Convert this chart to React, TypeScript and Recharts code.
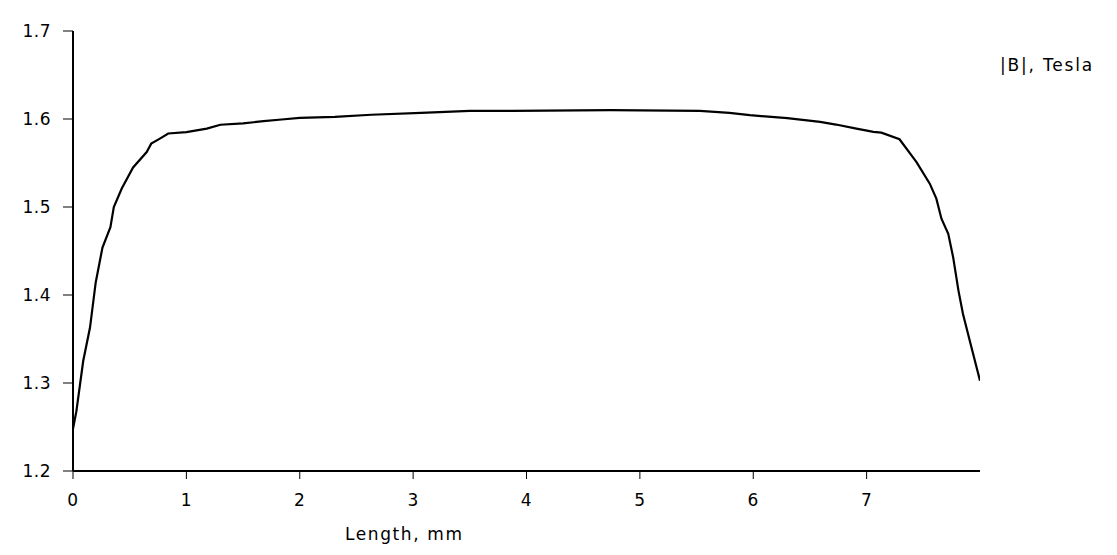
import { LineChart, Line, XAxis, YAxis, Label } from "recharts";

const lengthMm = [
  0, 0.03, 0.09, 0.15, 0.2, 0.26, 0.33, 0.36, 0.43, 0.53, 0.65, 0.69, 0.77,
  0.84, 1.0, 1.18, 1.3, 1.5, 1.68, 1.84, 2.0, 2.31, 2.63, 3.07, 3.5, 3.88,
  4.74, 5.53, 5.79, 5.97, 6.3, 6.59, 6.73, 6.91, 7.06, 7.13, 7.29, 7.44,
  7.557, 7.615, 7.66, 7.72, 7.763, 7.81, 7.85, 7.925, 8.0,
];

const fieldTesla = [
  1.248, 1.268, 1.325, 1.363, 1.414, 1.454, 1.477, 1.5, 1.521, 1.545, 1.5625,
  1.572, 1.578, 1.5835, 1.585, 1.589, 1.5935, 1.595, 1.5975, 1.5994, 1.6013,
  1.6024, 1.6048, 1.6069, 1.6092, 1.6092, 1.61, 1.6092, 1.607, 1.6043, 1.601,
  1.5967, 1.5937, 1.589, 1.5853, 1.5845, 1.577, 1.551, 1.5265, 1.5095, 1.4867,
  1.4696, 1.443, 1.405, 1.3785, 1.3404, 1.3025,
];

const xTicks = [0, 1, 2, 3, 4, 5, 6, 7];
const yTicks = [1.2, 1.3, 1.4, 1.5, 1.6, 1.7];

const data = lengthMm.map((x, i) => ({ x, b: fieldTesla[i] }));

const font = "'DejaVu Sans', Verdana, sans-serif";
const tickStyle = { fontFamily: font, fontSize: 17, fill: "#000", letterSpacing: 0.5 };

export default function App() {
  return (
    <div style={{ position: "absolute", left: 0, top: 0, background: "#fff" }}>
      <LineChart
        width={1117}
        height={555}
        data={data}
        margin={{ top: 31, right: 137, bottom: 54, left: 0 }}
      >
        <XAxis
          dataKey="x"
          type="number"
          domain={[0, 8]}
          ticks={xTicks}
          allowDataOverflow
          height={30}
          stroke="#000"
          strokeWidth={2}
          tickLine={{ stroke: "#000", strokeWidth: 1 }}
          tickSize={8}
          tickMargin={15}
          tick={tickStyle}
        >
          <Label
            content={() => (
              <text
                x={345}
                y={540}
                fontFamily={font}
                fontSize={17}
                letterSpacing={1.6}
                fill="#000"
              >
                Length, mm
              </text>
            )}
          />
        </XAxis>
        <YAxis
          type="number"
          domain={[1.2, 1.7]}
          ticks={yTicks}
          width={73}
          stroke="#000"
          strokeWidth={2}
          tickLine={{ stroke: "#000", strokeWidth: 1 }}
          tickSize={10}
          tickMargin={12}
          tick={tickStyle}
          tickFormatter={(v: number) => v.toFixed(1)}
        >
          <Label
            content={() => (
              <text
                x={1000}
                y={71}
                fontFamily={font}
                fontSize={17}
                letterSpacing={1.8}
                fill="#000"
              >
                |B|, Tesla
              </text>
            )}
          />
        </YAxis>
        <Line
          type="linear"
          dataKey="b"
          stroke="#000"
          strokeWidth={2.2}
          dot={false}
          isAnimationActive={false}
        />
      </LineChart>
    </div>
  );
}
